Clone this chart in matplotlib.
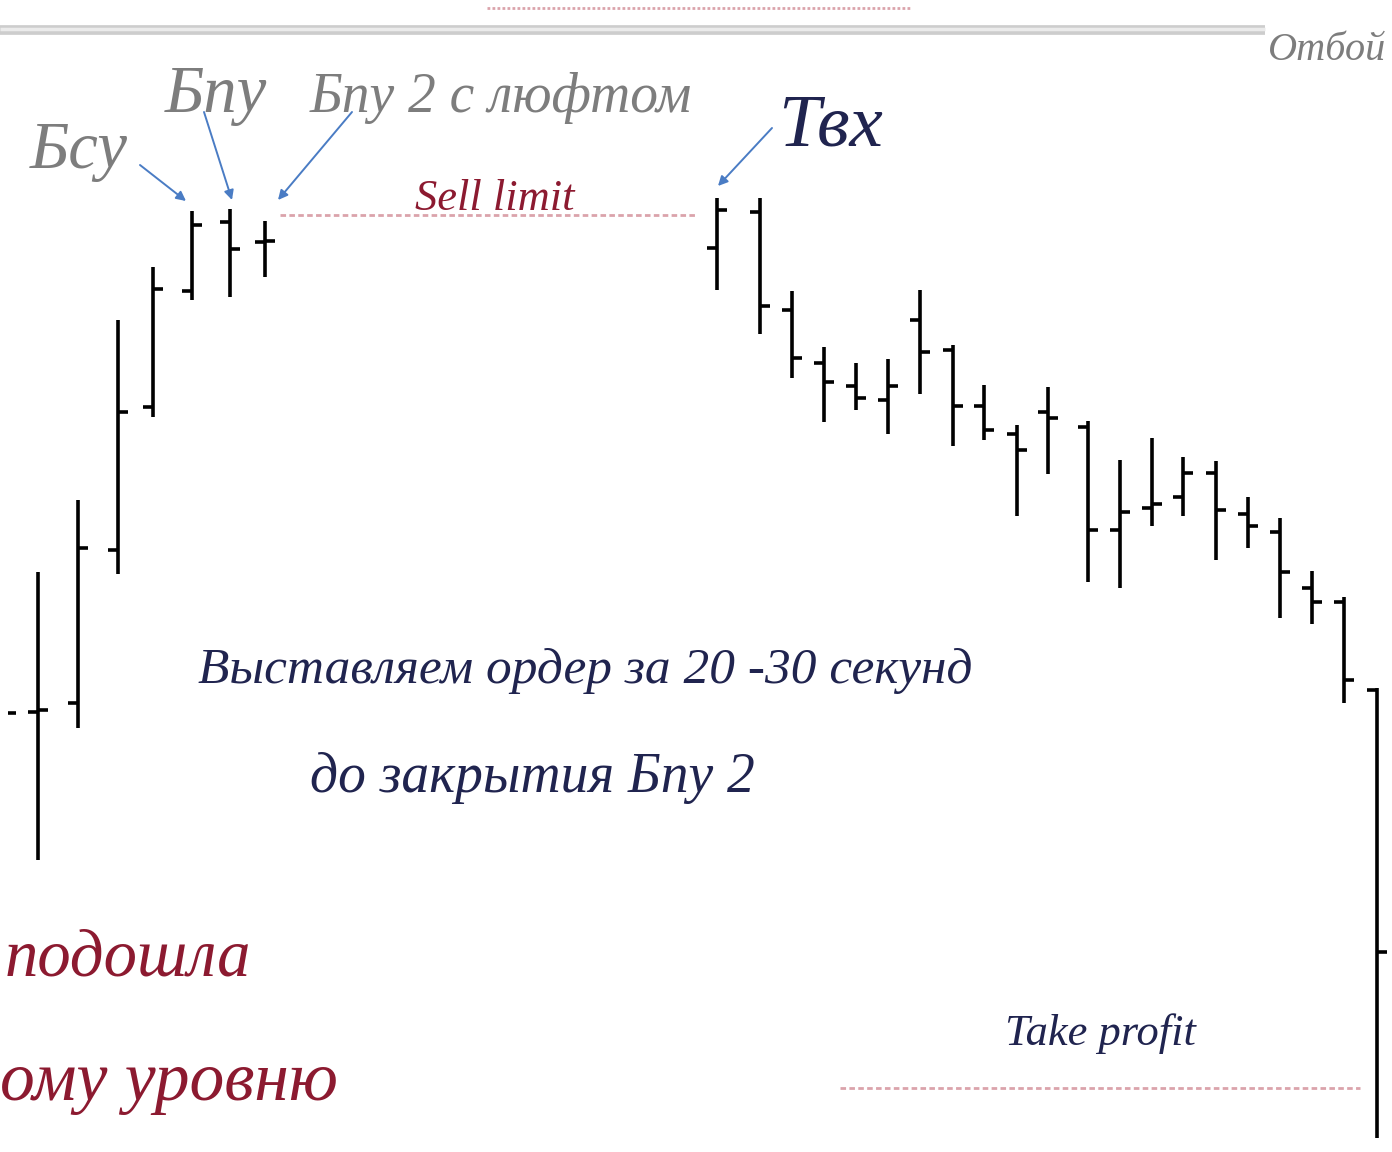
import matplotlib.pyplot as plt

# bar positions along the time axis (px) and OHLC prices
bar_x = [38, 78, 118, 153, 192, 230, 265,
         717, 760, 792, 824, 856, 888, 920, 953, 984, 1017, 1048,
         1088, 1120, 1152, 1183, 1216, 1248, 1280, 1312, 1344, 1377]
opens = [440, 449, 602, 745, 861, 930, 910,
         904, 940, 842, 789, 766, 752, 832, 802, 746, 718, 740,
         725, 622, 644, 655, 679, 638, 620, 564, 550, 462]
highs = [580, 652, 832, 885, 941, 943, 931,
         954, 954, 861, 805, 789, 793, 862, 807, 767, 727, 765,
         731, 692, 714, 695, 691, 655, 634, 581, 555, 464]
lows = [292, 424, 578, 735, 852, 855, 875,
        862, 818, 774, 730, 742, 718, 758, 706, 712, 636, 678,
        570, 564, 626, 636, 592, 604, 534, 528, 449, 14]
closes = [442, 604, 740, 863, 927, 903, 911,
          942, 846, 794, 770, 754, 766, 800, 746, 722, 702, 734,
          622, 640, 648, 679, 642, 626, 580, 550, 472, 200]

prev_close = 439
sell_limit = 937
take_profit = 64
upper_level = 1144
frame_line = 1122

W, H = 1392, 1152
fig = plt.figure(figsize=(W / 100, H / 100), dpi=100)
ax = fig.add_axes([0, 0, 1, 1])
ax.set_xlim(0, W)
ax.set_ylim(0, H)
ax.axis('off')

tick = 10
lw = 2.6
ax.vlines(bar_x, lows, highs, color='black', lw=lw)
ax.hlines(opens, [x - tick for x in bar_x], bar_x, color='black', lw=lw)
ax.hlines(closes, bar_x, [x + tick for x in bar_x], color='black', lw=lw)
ax.hlines(prev_close, 8, 16, color='black', lw=lw)

# level lines
dot = dict(color='#dba3ab', lw=2.0, linestyle=(0, (2.0, 1.2)))
ax.hlines(sell_limit, 280, 695, **dot)
ax.hlines(take_profit, 840, 1360, **dot)
ax.hlines(upper_level, 487, 912, color='#dba3ab', lw=2.0,
          linestyle=(0, (1.0, 0.8)))
ax.hlines(frame_line, 0, 1265, color='#cdcdcd', lw=7, capstyle='butt')
ax.hlines(frame_line + 1, 0, 1265, color='#ebebeb', lw=2.5, capstyle='butt')

font = ['Liberation Serif', 'DejaVu Serif']
gray = '#7d7d7d'
navy = '#20244f'
wine = '#8c1a30'

def label(x, y, s, size, color):
    ax.text(x, H - y, s, fontsize=size, color=color, family=font,
            style='italic', ha='left', va='baseline')

label(30, 168, 'Бсу', 48, gray)
label(165, 112, 'Бпу', 48, gray)
label(310, 112, 'Бпу 2 с люфтом', 40, gray)
label(778, 145, 'Твх', 54, navy)
label(415, 210, 'Sell limit', 32, wine)
label(198, 683, 'Выставляем ордер за 20 -30 секунд', 37, navy)
label(310, 792, 'до закрытия Бпу 2', 40, navy)
label(5, 975, 'подошла', 48, wine)
label(0, 1100, 'ому уровню', 50, wine)
label(1005, 1045, 'Take profit', 32, navy)
label(1268, 60, 'Отбой', 29, gray)

arrow = dict(arrowstyle='-|>', color='#4a7cc4', lw=1.4, mutation_scale=14,
             shrinkA=0, shrinkB=0)
for (x0, y0), (x1, y1) in [((140, 165), (186, 201)),
                           ((204, 112), (232, 200)),
                           ((352, 112), (278, 200)),
                           ((772, 128), (718, 186))]:
    ax.annotate('', xy=(x1, H - y1), xytext=(x0, H - y0), arrowprops=arrow)

fig.savefig('out.png', dpi=100, facecolor='white')
